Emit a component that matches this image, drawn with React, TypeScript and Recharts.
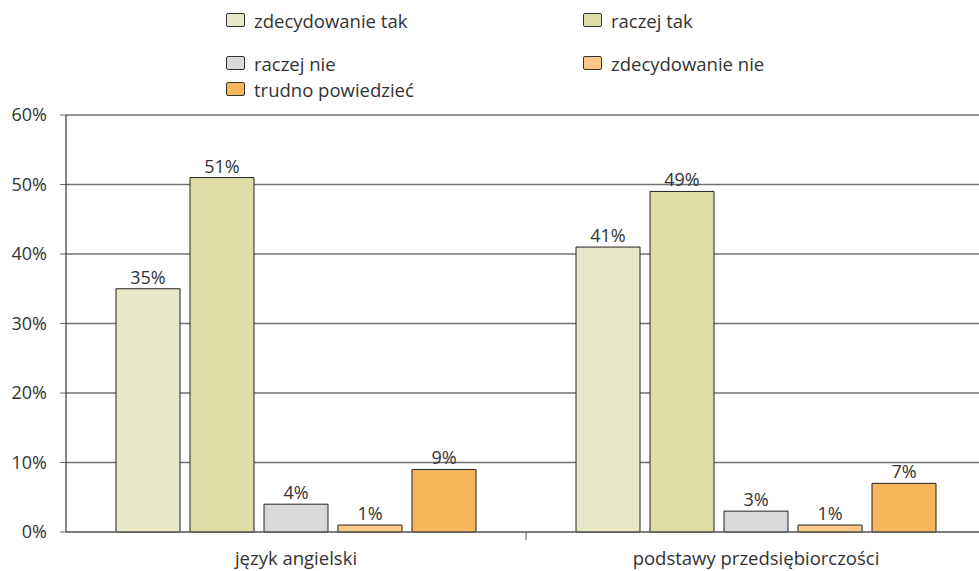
import { Bar, BarChart, CartesianGrid, LabelList, XAxis, YAxis } from "recharts";

const categories = ["język angielski", "podstawy przedsiębiorczości"];
const zdecydowanieTak = [35, 41];
const raczejTak = [51, 49];
const raczejNie = [4, 3];
const zdecydowanieNie = [1, 1];
const trudnoPowiedziec = [9, 7];
const yTicks = [0, 10, 20, 30, 40, 50, 60];

const series = [
  { key: "zt", name: "zdecydowanie tak", values: zdecydowanieTak, color: "#e8e8c9" },
  { key: "rt", name: "raczej tak", values: raczejTak, color: "#dfdea6" },
  { key: "rn", name: "raczej nie", values: raczejNie, color: "#d8d9da" },
  { key: "zn", name: "zdecydowanie nie", values: zdecydowanieNie, color: "#fdc98a" },
  { key: "tp", name: "trudno powiedzieć", values: trudnoPowiedziec, color: "#f6b55b" },
];

const data = categories.map((cat, i) => {
  const row: Record<string, string | number> = { cat };
  series.forEach((s) => {
    row[s.key] = s.values[i];
  });
  return row;
});

const FONT = "'Open Sans', sans-serif";

// legend laid out in two columns, filled row by row
const legendSlots = [
  { left: 226, top: 13 },
  { left: 583, top: 13 },
  { left: 226, top: 56 },
  { left: 583, top: 56 },
  { left: 226, top: 82 },
];

function CategoryTick(props: any) {
  const { x, y, payload, index } = props;
  return (
    <g>
      {index === 0 && (
        <line
          x1={x + payload.offset}
          x2={x + payload.offset}
          y1={y - 8}
          y2={y}
          stroke="#555"
          strokeWidth={1}
        />
      )}
      <text x={x} y={y + 25} textAnchor="middle" fill="#333" fontSize={18.5} fontFamily={FONT}>
        {payload.value}
      </text>
    </g>
  );
}

export default function App() {
  return (
    <div
      style={{
        position: "absolute",
        left: 0,
        top: 0,
        width: 979,
        height: 571,
        overflow: "hidden",
        background: "#fff",
        fontFamily: FONT,
      }}
    >
      {series.map((s, i) => (
        <div
          key={s.key}
          style={{
            position: "absolute",
            left: legendSlots[i].left,
            top: legendSlots[i].top,
            display: "flex",
            alignItems: "center",
            height: 14,
          }}
        >
          <span
            style={{
              width: 19,
              height: 14,
              boxSizing: "border-box",
              background: s.color,
              border: "1px solid #333",
              borderRadius: 2,
              display: "inline-block",
              flexShrink: 0,
            }}
          />
          <span style={{ marginLeft: 9, fontSize: 18.5, color: "#333", whiteSpace: "nowrap" }}>
            {s.name}
          </span>
        </div>
      ))}
      <BarChart
        width={990}
        height={571}
        data={data}
        margin={{ top: 115, right: 4, bottom: 0, left: 6 }}
        barCategoryGap={50}
        barGap={10}
      >
        <CartesianGrid vertical={false} stroke="#707070" strokeWidth={1.3} />
        <XAxis
          dataKey="cat"
          height={39}
          stroke="#666"
          tickLine={false}
          tick={<CategoryTick />}
          interval={0}
        />
        <YAxis
          width={60}
          domain={[0, 60]}
          ticks={yTicks}
          interval={0}
          tickFormatter={(v) => `${v}%`}
          axisLine={{ stroke: "#111" }}
          tickLine={{ stroke: "#666" }}
          tickSize={6}
          tickMargin={13}
          tick={{ fill: "#333", fontSize: 18, fontFamily: FONT }}
        />
        {series.map((s) => (
          <Bar
            key={s.key}
            dataKey={s.key}
            name={s.name}
            fill={s.color}
            stroke="#222"
            strokeWidth={1}
            isAnimationActive={false}
          >
            <LabelList
              dataKey={s.key}
              position="top"
              offset={5}
              formatter={(v: any) => `${v}%`}
              fill="#333"
              fontSize={18}
              fontFamily={FONT}
            />
          </Bar>
        ))}
      </BarChart>
    </div>
  );
}
